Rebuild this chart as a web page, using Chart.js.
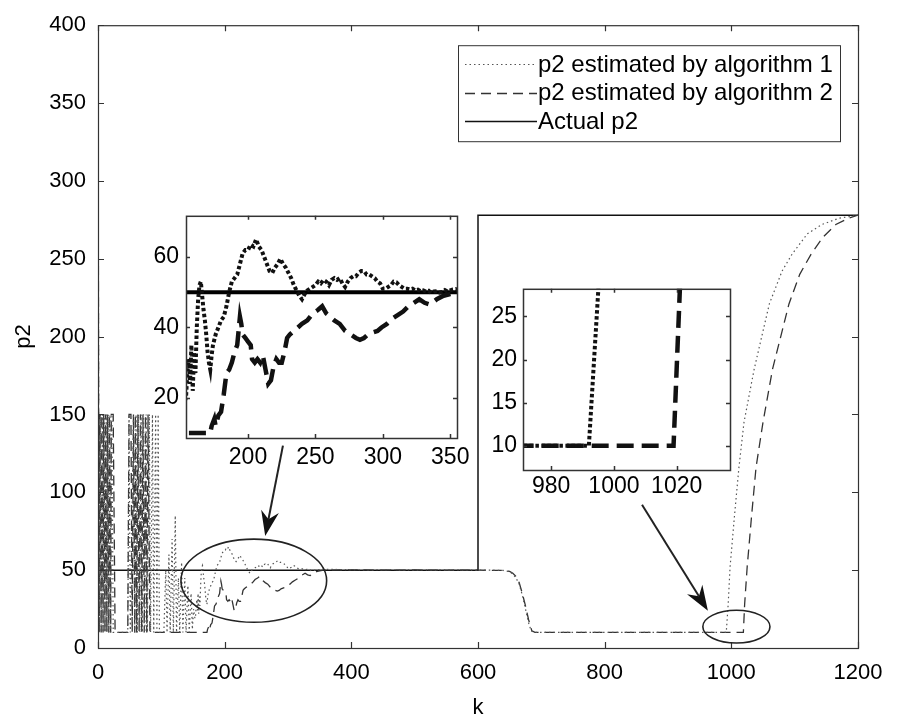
<!DOCTYPE html>
<html>
<head>
<meta charset="utf-8">
<title>p2 estimation</title>
<script src="https://cdn.jsdelivr.net/npm/chart.js@4.4.1/dist/chart.umd.min.js"></script>
<style>
	body { margin: 0; background: #fff; }
	#wrap { position: relative; width: 900px; height: 721px; }
	#wrap canvas { position: absolute; }
</style>
</head>
<body>
<div id="wrap">
	<canvas id="mainChart" width="900" height="721" style="left:0;top:0"></canvas>
	<canvas id="zoomA" width="331" height="283" style="left:146px;top:195px"></canvas>
	<canvas id="zoomB" width="267" height="236" style="left:483px;top:269px"></canvas>
</div>
<script>
// series
const alg1K = [
	0, 1, 2, 4, 5, 7, 8, 10, 11, 13,
	14, 16, 17, 19, 20, 22, 24, 47, 49, 51,
	56, 58, 60, 62, 64, 66, 68, 70, 72, 74,
	76, 78, 81, 83, 86, 88, 91, 93, 95, 97,
	104, 107, 109, 112, 114, 117, 119, 122, 124, 127,
	129, 132, 134, 137, 139, 142, 144, 147, 149, 151,
	153, 154, 155, 156, 157, 158, 159, 160, 161, 162,
	163, 164, 165, 166, 167, 168, 169, 170, 171, 172,
	173, 174, 176, 178, 180, 182, 184, 186, 188, 190,
	192, 194, 196, 198, 200, 202, 204, 206, 208, 210,
	212, 214, 216, 218, 220, 222, 224, 226, 228, 230,
	232, 234, 236, 238, 240, 242, 244, 246, 248, 250,
	252, 254, 256, 258, 260, 262, 264, 266, 268, 270,
	272, 274, 276, 278, 280, 282, 284, 286, 288, 290,
	292, 294, 296, 298, 300, 302, 304, 306, 308, 310,
	312, 314, 316, 318, 320, 322, 324, 326, 328, 330,
	332, 334, 336, 338, 340, 342, 344, 346, 348, 350,
	352, 354, 356, 380, 420, 460, 500, 540, 580, 620,
	640, 650, 655, 660, 665, 670, 675, 680, 684, 688,
	992, 995, 998, 1005, 1012, 1020, 1036, 1060, 1080, 1096,
	1120, 1143, 1170, 1200
];
const alg1P2 = [
	400, 150, 10, 150, 10, 150, 10, 150, 10, 150,
	10, 150, 10, 150, 10, 150, 10, 10, 150, 10,
	150, 10, 150, 10, 150, 10, 150, 10, 150, 10,
	150, 10, 150, 10, 150, 10, 150, 10, 150, 10,
	10, 50, 10, 60, 10, 70, 10, 85, 10, 45,
	10, 55, 10, 45, 10, 40, 10, 35, 12, 25,
	19, 20, 27, 31, 24, 35, 22, 33, 27, 40,
	48, 52, 53, 49, 45, 42, 38, 33, 30, 28,
	32, 35, 38, 40, 42, 43, 46, 50, 53, 54,
	55, 58, 61, 62, 62, 63.5, 63, 65, 63, 62,
	60, 58, 56, 55.5, 57, 58, 59.5, 58, 57, 55.5,
	54, 52, 50.5, 49, 48, 49.5, 50.5, 51, 51.5, 52,
	53, 52.5, 53.5, 53, 52, 53.5, 54, 53.5, 54, 52.5,
	51.5, 53, 54, 54.5, 54.5, 55.5, 56, 56, 55, 55,
	54.5, 54, 53, 52.5, 51, 51, 51.5, 52, 53, 52.8,
	52, 51.5, 51, 51, 50.8, 51, 50.5, 50.7, 50.3, 50.5,
	50.2, 50.4, 49.8, 50.2, 50.3, 49.9, 50.1, 50.6, 50.2, 50.5,
	50.8, 50.9, 50.6, 50.4, 50.2, 50.3, 50.1, 50.2, 50.1, 50,
	49.8, 49, 47.5, 45, 41, 34, 25, 16, 11, 10,
	10, 28, 52, 85, 116, 145, 179, 221, 242, 253,
	266, 272, 276, 278
];

const alg2K = [
	0, 1, 2, 3, 5, 6, 8, 9, 11, 12,
	14, 15, 17, 18, 20, 21, 24, 27, 47, 49,
	52, 54, 56, 58, 59, 61, 63, 65, 67, 69,
	71, 73, 75, 77, 79, 82, 172, 173, 175, 176,
	178, 180, 182, 184, 186, 188, 190, 192, 194, 195,
	196, 198, 200, 202, 203, 205, 207, 209, 211, 213,
	215, 217, 219, 221, 223, 225, 227, 229, 231, 234,
	237, 240, 244, 248, 252, 255, 258, 261, 264, 268,
	272, 276, 280, 283, 286, 289, 292, 296, 299, 303,
	307, 311, 315, 319, 323, 327, 331, 335, 340, 345,
	350, 356, 400, 450, 500, 550, 600, 640, 650, 655,
	660, 665, 670, 675, 680, 685, 690, 1019, 1021, 1025,
	1032, 1039, 1050, 1065, 1078, 1091, 1108, 1126, 1145, 1165,
	1185, 1200
];
const alg2P2 = [
	400, 150, 10, 150, 10, 150, 10, 150, 10, 150,
	10, 150, 10, 150, 10, 150, 150, 10, 10, 150,
	150, 10, 150, 10, 150, 10, 150, 10, 150, 10,
	150, 10, 150, 10, 150, 10, 10, 12, 14, 12,
	15, 16, 21, 27, 28, 30, 33, 35, 43, 41,
	38, 37, 36, 35, 31, 30, 31, 30, 32, 28,
	24, 25, 29, 31, 30, 30, 33, 37, 38, 39,
	40, 41, 42, 44, 45, 46, 44, 43, 42, 41,
	39, 38, 37, 36.5, 37, 38, 38.5, 39, 40, 41,
	42.5, 43.5, 44.5, 46, 47, 48, 47, 46.5, 48, 49,
	49.5, 50, 50.2, 50, 50.1, 49.9, 50, 49.8, 49.2, 48,
	46, 42, 35, 27, 18, 11, 10, 10, 28, 52,
	85, 116, 145, 179, 200, 221, 240, 253, 264, 272,
	276, 278
];

const actualK = [0, 600, 600, 1200];
const actualP2 = [50, 50, 278, 278];

const seriesNames = ['p2 estimated by algorithm 1', 'p2 estimated by algorithm 2', 'Actual p2'];

const mainXTicks = [0, 200, 400, 600, 800, 1000, 1200];
const mainYTicks = [0, 50, 100, 150, 200, 250, 300, 350, 400];
const zoomAXTicks = [200, 250, 300, 350];
const zoomAYTicks = [20, 40, 60];
const zoomBXTicks = [980, 1000, 1020];
const zoomBYTicks = [10, 15, 20, 25];

const FONT = 'Liberation Sans, Arial, Helvetica, sans-serif';

function pts(ks, vs) {
	return ks.map((k, i) => ({ x: k, y: vs[i] }));
}

function fixTicks(list) {
	return function (scale) {
		scale.ticks = list.map(v => ({ value: v }));
	};
}

// matlab style box with inward ticks
const frame = {
	id: 'frame',
	beforeDatasetsDraw(chart, args, opts) {
		if (!opts.fill) return;
		const a = chart.chartArea;
		const ctx = chart.ctx;
		ctx.save();
		ctx.fillStyle = '#fff';
		ctx.fillRect(a.left, a.top, a.right - a.left, a.bottom - a.top);
		ctx.restore();
	},
	afterDatasetsDraw(chart, args, opts) {
		const a = chart.chartArea;
		const ctx = chart.ctx;
		const sx = chart.scales.x;
		const sy = chart.scales.y;
		const tl = opts.tick;
		ctx.save();
		ctx.strokeStyle = '#333';
		ctx.lineWidth = opts.width;
		ctx.beginPath();
		sx.ticks.forEach(t => {
			const px = Math.round(sx.getPixelForValue(t.value)) + 0.5;
			ctx.moveTo(px, a.bottom);
			ctx.lineTo(px, a.bottom - tl);
			ctx.moveTo(px, a.top);
			ctx.lineTo(px, a.top + tl);
		});
		sy.ticks.forEach(t => {
			const py = Math.round(sy.getPixelForValue(t.value)) + 0.5;
			ctx.moveTo(a.left, py);
			ctx.lineTo(a.left + tl, py);
			ctx.moveTo(a.right, py);
			ctx.lineTo(a.right - tl, py);
		});
		ctx.stroke();
		ctx.strokeRect(a.left + 0.5, a.top + 0.5, a.right - a.left, a.bottom - a.top);
		ctx.restore();
	}
};

function drawArrow(ctx, x1, y1, x2, y2) {
	const ang = Math.atan2(y2 - y1, x2 - x1);
	const c = Math.cos(ang);
	const s = Math.sin(ang);
	const len = 25;
	const half = 9;
	const notch = 17;
	ctx.beginPath();
	ctx.moveTo(x1, y1);
	ctx.lineTo(x2 - notch * c, y2 - notch * s);
	ctx.stroke();
	ctx.beginPath();
	ctx.moveTo(x2, y2);
	ctx.lineTo(x2 - len * c + half * s, y2 - len * s - half * c);
	ctx.lineTo(x2 - notch * c, y2 - notch * s);
	ctx.lineTo(x2 - len * c - half * s, y2 - len * s + half * c);
	ctx.closePath();
	ctx.fill();
}

// ellipses, arrows and legend of the main plot
const notes = {
	id: 'notes',
	afterDraw(chart) {
		const ctx = chart.ctx;
		const sx = chart.scales.x;
		const sy = chart.scales.y;
		const a = chart.chartArea;
		const rx = k => Math.abs(sx.getPixelForValue(k) - sx.getPixelForValue(0));
		const ry = v => Math.abs(sy.getPixelForValue(v) - sy.getPixelForValue(0));

		ctx.save();
		ctx.strokeStyle = '#222';
		ctx.fillStyle = '#111';
		ctx.lineWidth = 1.6;
		ctx.beginPath();
		ctx.ellipse(sx.getPixelForValue(246), sy.getPixelForValue(43.2), rx(115), ry(26.7), 0, 0, Math.PI * 2);
		ctx.stroke();
		ctx.beginPath();
		ctx.ellipse(sx.getPixelForValue(1008), sy.getPixelForValue(13.7), rx(53), ry(10.5), 0, 0, Math.PI * 2);
		ctx.stroke();

		ctx.lineWidth = 2;
		drawArrow(ctx, sx.getPixelForValue(292), sy.getPixelForValue(130), sx.getPixelForValue(264), sy.getPixelForValue(72));
		drawArrow(ctx, sx.getPixelForValue(859), sy.getPixelForValue(92), sx.getPixelForValue(963), sy.getPixelForValue(24));

		// legend
		const bx = a.right - 18 - 382;
		const by = a.top + 20;
		ctx.fillStyle = '#fff';
		ctx.fillRect(bx, by, 382, 96);
		ctx.strokeStyle = '#333';
		ctx.lineWidth = 1;
		ctx.strokeRect(bx + 0.5, by + 0.5, 382, 96);
		const sets = chart.data.datasets;
		const rows = [19, 47.5, 76];
		ctx.font = '24px ' + FONT;
		ctx.textBaseline = 'middle';
		rows.forEach((r, i) => {
			const y = Math.round(by + r) + 0.5;
			ctx.strokeStyle = sets[i].borderColor;
			ctx.lineWidth = sets[i].borderWidth;
			ctx.setLineDash(sets[i].borderDash || []);
			ctx.beginPath();
			ctx.moveTo(bx + 7, y);
			ctx.lineTo(bx + 79, y);
			ctx.stroke();
			ctx.setLineDash([]);
			ctx.fillStyle = '#000';
			ctx.fillText(sets[i].label, bx + 80, by + r + 1);
		});
		ctx.restore();
	}
};

function axisOpts(min, max, ticks, size, pad, fit) {
	return {
		type: 'linear',
		min: min,
		max: max,
		afterBuildTicks: fixTicks(ticks),
		afterFit: fit,
		grid: { display: false, drawTicks: false },
		border: { display: false },
		ticks: {
			color: '#000',
			font: { family: FONT, size: size },
			padding: pad,
			maxRotation: 0,
			autoSkip: false,
			callback: v => String(v)
		}
	};
}

const mainX = axisOpts(0, 1200, mainXTicks, 22, 12, s => { s.height = 73; });
mainX.title = { display: true, text: 'k', color: '#000', font: { family: FONT, size: 22 }, padding: { top: 0, bottom: 0 } };
const mainY = axisOpts(0, 400, mainYTicks, 22, 12, s => { s.width = 98; });
mainY.title = { display: true, text: 'p2', color: '#000', font: { family: FONT, size: 22 }, padding: { top: 11, bottom: 0 } };

new Chart(document.getElementById('mainChart'), {
	type: 'line',
	data: {
		datasets: [
			{ label: seriesNames[0], data: pts(alg1K, alg1P2), borderColor: '#555', borderWidth: 1.2, borderDash: [1.5, 3] },
			{ label: seriesNames[1], data: pts(alg2K, alg2P2), borderColor: '#333', borderWidth: 1.3, borderDash: [10, 6] },
			{ label: seriesNames[2], data: pts(actualK, actualP2), borderColor: '#111', borderWidth: 1.5 }
		]
	},
	options: {
		responsive: false,
		devicePixelRatio: 1,
		animation: false,
		events: [],
		layout: { padding: { left: 0, top: 18, right: 42, bottom: 0 } },
		elements: { point: { radius: 0 }, line: { tension: 0 } },
		scales: { x: mainX, y: mainY },
		plugins: { legend: { display: false }, tooltip: { enabled: false }, frame: { fill: false, tick: 6, width: 1.2 } }
	},
	plugins: [frame, notes]
});

function zoomChart(id, xr, yr, xt, yt, xpad, ypad, xh) {
	new Chart(document.getElementById(id), {
		type: 'line',
		data: {
			datasets: [
				{ label: seriesNames[0], data: pts(alg1K, alg1P2), borderColor: '#111', borderWidth: 4, borderDash: [3.5, 2.5], clip: 0 },
				{ label: seriesNames[1], data: pts(alg2K, alg2P2), borderColor: '#111', borderWidth: 4.5, borderDash: [17, 8], clip: 0 },
				{ label: seriesNames[2], data: pts(actualK, actualP2), borderColor: '#000', borderWidth: 4, clip: 0 }
			]
		},
		options: {
			responsive: false,
			devicePixelRatio: 1,
			animation: false,
			events: [],
			layout: { padding: { left: 0, top: 16, right: 20, bottom: 0 } },
			elements: { point: { radius: 0 }, line: { tension: 0 } },
			scales: {
				x: axisOpts(xr[0], xr[1], xt, 23, xpad, s => { s.height = xh; }),
				y: axisOpts(yr[0], yr[1], yt, 23, ypad, s => { s.width = 40; })
			},
			plugins: { legend: { display: false }, tooltip: { enabled: false }, frame: { fill: true, tick: 4, width: 1.5 } }
		},
		plugins: [frame]
	});
}

zoomChart('zoomA', [154, 355], [8.6, 71.7], zoomAXTicks, zoomAYTicks, 6, 7, 40);
zoomChart('zoomB', [971, 1037], [7.2, 28.2], zoomBXTicks, zoomBYTicks, 3, 6, 35);
</script>
</body>
</html>
